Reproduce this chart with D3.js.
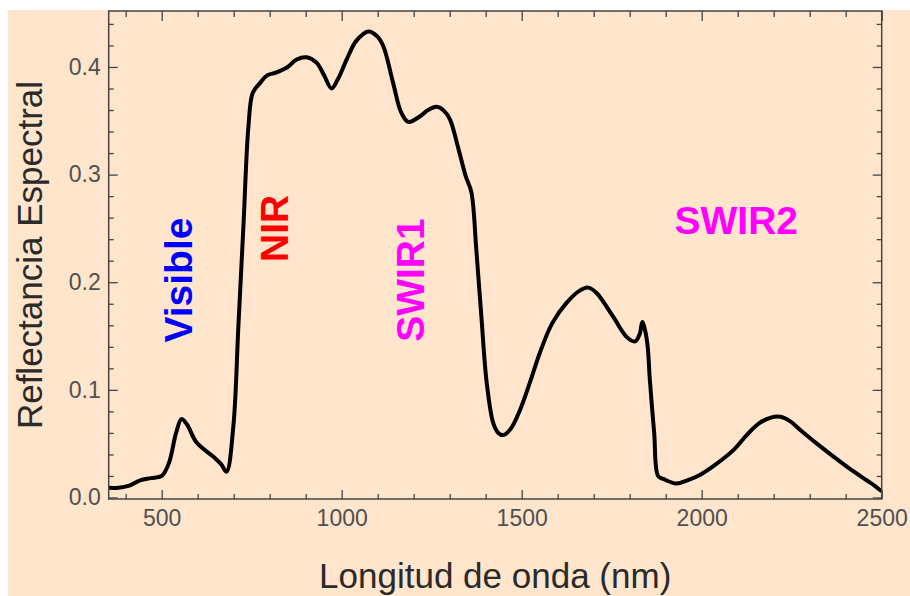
<!DOCTYPE html>
<html>
<head>
<meta charset="utf-8">
<script src="https://cdn.jsdelivr.net/npm/d3@7"></script>
<style>
  html, body { margin: 0; padding: 0; background: #ffffff; }
  svg { display: block; }
</style>
</head>
<body>
<svg id="chart" width="910" height="596"></svg>
<script>
// ---- data ----
const wavelength = [350, 380, 410, 440, 470, 500, 520, 540, 555, 570, 597, 643, 665, 680,
  699, 713, 727, 741, 753, 773, 792, 819, 850, 875, 903, 930, 950, 972, 990, 1014, 1040,
  1074, 1100, 1116, 1143, 1165, 1185, 1217, 1240, 1264, 1285, 1301, 1325, 1345,
  1360, 1374, 1388, 1403, 1421, 1435, 1449, 1470, 1495, 1525, 1551, 1585, 1625, 1660,
  1685, 1708, 1754, 1792, 1815, 1828, 1835, 1843, 1850, 1856, 1868, 1879, 1895, 1930,
  1960, 1995, 2040, 2088, 2125, 2160, 2190, 2218, 2245, 2273, 2320, 2366, 2410, 2458, 2480,
  2495, 2500];
const reflectance = [0.009, 0.009, 0.011, 0.016, 0.018, 0.020, 0.032, 0.060, 0.073, 0.068,
  0.051, 0.038, 0.031, 0.024, 0.066, 0.159, 0.252, 0.345, 0.376, 0.385, 0.392, 0.395,
  0.400, 0.407, 0.409, 0.404, 0.393, 0.380, 0.389, 0.407, 0.424, 0.433, 0.428, 0.419,
  0.385, 0.358, 0.349, 0.354, 0.360, 0.363, 0.359, 0.351, 0.323, 0.298, 0.284,
  0.230, 0.168, 0.106, 0.069, 0.060, 0.058, 0.064, 0.081, 0.109, 0.135, 0.162, 0.181,
  0.192, 0.195, 0.190, 0.168, 0.149, 0.145, 0.152, 0.163, 0.155, 0.140, 0.109, 0.060,
  0.020, 0.017, 0.013, 0.016, 0.021, 0.031, 0.044, 0.058, 0.069, 0.074, 0.075, 0.071, 0.063,
  0.050, 0.038, 0.027, 0.016, 0.011, 0.007, 0.006];

const xMajorTicks = [500, 1000, 1500, 2000, 2500];
const xMinorTicks = [400, 600, 700, 800, 900, 1100, 1200, 1300, 1400, 1600, 1700, 1800,
  1900, 2100, 2200, 2300, 2400];
const yMajorTicks = [0.0, 0.1, 0.2, 0.3, 0.4];
const yMinorTicks = [0.02, 0.04, 0.06, 0.08, 0.12, 0.14, 0.16, 0.18, 0.22, 0.24, 0.26,
  0.28, 0.32, 0.34, 0.36, 0.38, 0.42, 0.44];

const bandLabels = ["Visible", "NIR", "SWIR1", "SWIR2"];
const bandWavelength = [548, 812, 1190, 2096];
const bandReflectance = [0.202, 0.25, 0.202, 0.257];
const bandRotated = [true, true, true, false];
const bandColors = ["#0000ff", "#ff0000", "#ff00ff", "#ff00ff"];

const xTitle = "Longitud de onda (nm)";
const yTitle = "Reflectancia Espectral";

// ---- layout ----
const svg = d3.select("#chart");
const L = 108.7, R = 881.7, T = 11, B = 499;

svg.append("rect").attr("x", 8).attr("y", 10).attr("width", 902).attr("height", 586)
  .attr("fill", "#ffe5cc");

const x = d3.scaleLinear().domain([352.8, 2500]).range([L, R]);
const y = d3.scaleLinear().domain([-0.0014, 0.452]).range([B, T]);

svg.append("clipPath").attr("id", "clip")
  .append("rect").attr("x", L).attr("y", T).attr("width", R - L).attr("height", B - T);

const data = wavelength.map((w, i) => ({ w, r: reflectance[i] }));

const line = d3.line().x(d => x(d.w)).y(d => y(d.r)).curve(d3.curveCatmullRom.alpha(0.5));

svg.append("path").datum(data)
  .attr("clip-path", "url(#clip)")
  .attr("d", line)
  .attr("fill", "none")
  .attr("stroke", "#000")
  .attr("stroke-width", 4)
  .attr("stroke-linejoin", "round")
  .attr("stroke-linecap", "round");

// ---- frame axes (ticks inside, on all four sides) ----
const frameColor = "#454545";
const major = 9, minor = 5;

function styleAxis(g) {
  g.select(".domain").remove();
  g.selectAll(".tick line").attr("stroke", frameColor).attr("stroke-width", 1.3);
  g.selectAll(".tick text").attr("fill", "#505050")
    .attr("font-family", "Liberation Sans, Arial, sans-serif").attr("font-size", 23);
}

// bottom
const gb = svg.append("g").attr("transform", `translate(0,${B})`)
  .call(d3.axisTop(x).tickValues(xMajorTicks).tickSize(major).tickFormat(""));
styleAxis(gb);
const gbm = svg.append("g").attr("transform", `translate(0,${B})`)
  .call(d3.axisTop(x).tickValues(xMinorTicks).tickSize(minor).tickFormat(""));
styleAxis(gbm);
const gbl = svg.append("g").attr("transform", `translate(0,${B})`)
  .call(d3.axisBottom(x).tickValues(xMajorTicks).tickSize(0).tickPadding(11).tickFormat(d3.format("d")));
styleAxis(gbl);
// top
const gt = svg.append("g").attr("transform", `translate(0,${T})`)
  .call(d3.axisBottom(x).tickValues(xMajorTicks).tickSize(major + 1).tickFormat(""));
styleAxis(gt);
const gtm = svg.append("g").attr("transform", `translate(0,${T})`)
  .call(d3.axisBottom(x).tickValues(xMinorTicks).tickSize(minor + 1).tickFormat(""));
styleAxis(gtm);
// left
const gl = svg.append("g").attr("transform", `translate(${L},0)`)
  .call(d3.axisRight(y).tickValues(yMajorTicks).tickSize(major).tickFormat(""));
styleAxis(gl);
const glm = svg.append("g").attr("transform", `translate(${L},0)`)
  .call(d3.axisRight(y).tickValues(yMinorTicks).tickSize(minor).tickFormat(""));
styleAxis(glm);
const gll = svg.append("g").attr("transform", `translate(${L},0)`)
  .call(d3.axisLeft(y).tickValues(yMajorTicks).tickSize(0).tickPadding(8).tickFormat(d3.format(".1f")));
styleAxis(gll);
// right
const gr = svg.append("g").attr("transform", `translate(${R},0)`)
  .call(d3.axisLeft(y).tickValues(yMajorTicks).tickSize(major).tickFormat(""));
styleAxis(gr);
const grm = svg.append("g").attr("transform", `translate(${R},0)`)
  .call(d3.axisLeft(y).tickValues(yMinorTicks).tickSize(minor).tickFormat(""));
styleAxis(grm);

svg.append("rect").attr("x", L).attr("y", T).attr("width", R - L).attr("height", B - T)
  .attr("fill", "none").attr("stroke", frameColor).attr("stroke-width", 1.5);

// ---- titles ----
svg.append("text").attr("x", (L + R) / 2).attr("y", 588)
  .attr("text-anchor", "middle")
  .attr("font-family", "Liberation Sans, Arial, sans-serif").attr("font-size", 35)
  .attr("fill", "#2a2a2a").text(xTitle);

svg.append("text")
  .attr("transform", `translate(42,${(T + B) / 2}) rotate(-90)`)
  .attr("text-anchor", "middle")
  .attr("font-family", "Liberation Sans, Arial, sans-serif").attr("font-size", 35)
  .attr("fill", "#2a2a2a").text(yTitle);

// ---- band labels ----
bandLabels.forEach((t, i) => {
  const px = x(bandWavelength[i]), py = y(bandReflectance[i]);
  svg.append("text")
    .attr("transform", bandRotated[i] ? `translate(${px},${py}) rotate(-90)` : `translate(${px},${py})`)
    .attr("text-anchor", "middle")
    .attr("dominant-baseline", "central")
    .attr("font-family", "Liberation Sans, Arial, sans-serif")
    .attr("font-weight", "bold").attr("font-size", 39)
    .attr("fill", bandColors[i]).text(t);
});
</script>
</body>
</html>
